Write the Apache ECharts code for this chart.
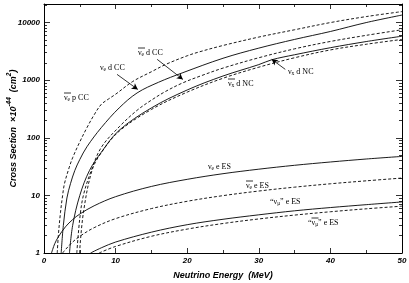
<!DOCTYPE html>
<html><head><meta charset="utf-8">
<script src="https://cdn.jsdelivr.net/npm/echarts@6/dist/echarts.min.js"></script>
<style>html,body{margin:0;padding:0;background:#fff}#c{width:409px;height:283px}</style>
</head><body><div id="c"></div>
<script>
// ---- data (cross sections in 1e-44 cm^2 vs neutrino energy in MeV) ----
const E_nuebarP = [1.85, 2, 2.3, 2.6, 2.86, 3.5, 4, 5, 6, 7, 8, 9, 10, 12.4, 15, 17.1, 20, 21.7, 25, 30, 35, 40, 45, 50];
const S_nuebarP = [1, 2, 5, 10, 16, 30, 45, 85, 150, 250, 380, 470, 570, 950, 1400, 1900, 2650, 3100, 4000, 5600, 7500, 10000, 12700, 15500];

const E_nueD_CC = [2.4, 2.7, 3.2, 3.7, 4.3, 5, 6, 8, 10.5, 13, 16, 19.4, 25, 30, 35, 40, 45, 50];
const S_nueD_CC = [1, 3, 9, 16, 27, 42, 70, 150, 330, 600, 920, 1350, 2400, 3600, 5100, 7000, 10000, 13500];

const E_nuebarD_CC = [4.58, 5, 5.5, 6.6, 8, 10.5, 13, 15, 17, 19.4, 22, 25, 30, 35, 40, 45, 50];
const S_nuebarD_CC = [1, 4, 10, 27, 68, 155, 300, 450, 640, 900, 1200, 1620, 2450, 3500, 4700, 6000, 7500];

const E_nuxD_NC = [3.56, 4, 5, 6.35, 8, 10.5, 15, 20, 25, 30, 31.8, 35, 40, 45, 50];
const S_nuxD_NC = [1, 3, 10, 27, 56, 135, 330, 676, 1181, 1863, 2260, 2762, 3660, 4680, 5800];

const E_nuxbarD_NC = [4.96, 5.5, 6.7, 8, 10.5, 15, 20, 25, 30, 35, 40, 45, 50];
const S_nuxbarD_NC = [1, 5, 27, 55, 130, 310, 620, 1080, 1680, 2450, 3350, 4200, 5100];

const E_nueES = [1.05, 1.5, 2, 3, 4, 5, 7, 10, 15, 20, 25, 30, 35, 40, 45, 50];
const S_nueES = [1, 1.45, 1.9, 2.85, 3.8, 4.75, 6.6, 9.5, 14.3, 19, 23.8, 28.5, 33.3, 38, 42.8, 47.5];

const E_nuebarES = [2.6, 3, 4, 5, 7, 10, 15, 20, 25, 30, 35, 40, 45, 50];
const S_nuebarES = [1, 1.15, 1.55, 1.95, 2.75, 3.95, 5.9, 7.9, 9.9, 11.9, 13.9, 15.9, 17.9, 20];

const E_numuES = [6.5, 8, 10, 15, 20, 25, 30, 35, 40, 45, 50];
const S_numuES = [1, 1.23, 1.55, 2.3, 3.1, 3.85, 4.6, 5.4, 6.15, 6.9, 7.7];

const E_numubarES = [7.7, 10, 15, 20, 25, 30, 35, 40, 45, 50];
const S_numubarES = [1, 1.3, 1.95, 2.6, 3.25, 3.9, 4.55, 5.2, 5.85, 6.5];

const xTickLabels = [0, 10, 20, 30, 40, 50];
const yTickLabels = [1, 10, 100, 1000, 10000];

// arrows: [E_from, S_from, E_to, S_to]
const arrowNueD = [10.2, 1260, 13.1, 690];
const arrowNuebarD = [15.8, 2300, 19.4, 1030];
const arrowNuxD = [33.7, 1540, 31.8, 2300];

function pairs(e, s) { return e.map((v, i) => [v, s[i]]); }

const SANS = 'Liberation Sans, Arial, sans-serif';
const SERIF = 'Liberation Serif, Times New Roman, serif';

function lineSeries(name, e, s, dashed, arrow) {
  const ser = {
    name, type: 'line', data: pairs(e, s), showSymbol: false, smooth: 0.35,
    clip: true, silent: true,
    lineStyle: { color: '#000', width: 0.9, type: dashed ? [3, 2] : 'solid' },
    z: 3
  };
  if (arrow) {
    ser.markLine = {
      silent: true, symbol: ['none', 'arrow'], symbolSize: [5, 6],
      label: { show: false },
      lineStyle: { color: '#000', width: 0.8, type: 'solid' },
      data: [[{ coord: [arrow[0], arrow[1]] }, { coord: [arrow[2], arrow[3]] }]]
    };
  }
  return ser;
}

const richBase = {
  a: { fontFamily: SERIF, fontSize: 8, lineHeight: 10, verticalAlign: 'middle', fill: '#000' },
  b: { fontFamily: SERIF, fontSize: 5.5, lineHeight: 4, verticalAlign: 'bottom', fill: '#000' }
};
function label(x, y, text, barOffset) {
  const els = [{
    type: 'text', x, y, silent: true,
    style: { text, rich: richBase, verticalAlign: 'middle', align: 'left', fill: '#000' }
  }];
  if (barOffset !== undefined) {
    els.push({ type: 'line', silent: true,
      shape: { x1: x + barOffset, y1: y - 5, x2: x + barOffset + 7, y2: y - 5 },
      style: { stroke: '#000', lineWidth: 0.8 } });
  }
  return els;
}

const graphics = [].concat(
  label(100, 68, '{a|ν}{b|e}{a| d CC}'),
  label(138, 53, '{a|ν}{b|e}{a| d CC}', 0),
  label(64, 98, '{a|ν}{b|e}{a| p CC}', 0),
  label(288, 72, '{a|ν}{b|x}{a| d NC}'),
  label(228, 84, '{a|ν}{b|x}{a| d NC}', 0),
  label(208, 167, '{a|ν}{b|e}{a| e ES}'),
  label(246, 186, '{a|ν}{b|e}{a| e ES}', 0),
  label(270, 202, '{a|“ν}{b|μ}{a|” e ES}'),
  label(308, 223, '{a|“ν}{b|μ}{a|” e ES}', 3.5)
);

const axisFont = { color: '#000', fontFamily: SANS, fontWeight: 'bold', fontStyle: 'italic', fontSize: 8 };

const option = {
  animation: false,
  backgroundColor: '#fff',
  grid: { left: 44, right: 7, top: 4, bottom: 30, containLabel: false, outerBoundsMode: 'none' },
  xAxis: [
    { type: 'value', min: 0, max: 50, interval: 10, position: 'bottom',
      axisLine: { show: true, onZero: false, lineStyle: { color: '#000', width: 1 } },
      axisTick: { show: true, inside: true, length: 5, lineStyle: { color: '#000', width: 0.8 } },
      minorTick: { show: true, splitNumber: 2, length: 3, lineStyle: { color: '#000', width: 0.8 } },
      splitLine: { show: false },
      axisLabel: Object.assign({ margin: 4, formatter: v => xTickLabels.includes(v) ? String(v) : '' }, axisFont),
      name: 'Neutrino Energy  (MeV)', nameLocation: 'middle', nameGap: 18, nameMoveOverlap: false,
      nameTextStyle: { color: '#000', fontFamily: SANS, fontWeight: 'bold', fontStyle: 'italic', fontSize: 9 }
    },
    { type: 'value', min: 0, max: 50, interval: 10, position: 'top',
      axisLine: { show: true, onZero: false, lineStyle: { color: '#000', width: 1 } },
      axisTick: { show: true, inside: true, length: 5, lineStyle: { color: '#000', width: 0.8 } },
      minorTick: { show: true, splitNumber: 2, length: 3, lineStyle: { color: '#000', width: 0.8 } },
      splitLine: { show: false }, axisLabel: { show: false }
    }
  ],
  yAxis: [
    { type: 'log', logBase: 10, min: 1, max: 21000, position: 'left',
      axisLine: { show: true, onZero: false, lineStyle: { color: '#000', width: 1 } },
      axisTick: { show: true, inside: true, length: 6, lineStyle: { color: '#000', width: 0.8 } },
      minorTick: { show: true, splitNumber: 9, length: 3, lineStyle: { color: '#000', width: 0.8 } },
      splitLine: { show: false },
      axisLabel: Object.assign({ margin: 4, formatter: v => {
        const r = Math.round(v); return yTickLabels.includes(r) && Math.abs(r - v) < 1e-6 ? String(r) : ''; } }, axisFont),
      name: '{t|Cross Section  ×10}{s|-44}{t|  (cm}{s|2}{t|)}', nameLocation: 'middle', nameGap: 26, nameRotate: 90,
      nameMoveOverlap: false,
      nameTextStyle: { rich: {
        t: { color: '#000', fontFamily: SANS, fontWeight: 'bold', fontStyle: 'italic', fontSize: 9, lineHeight: 12, verticalAlign: 'bottom' },
        s: { color: '#000', fontFamily: SANS, fontWeight: 'bold', fontStyle: 'italic', fontSize: 6.5, lineHeight: 8, verticalAlign: 'top' }
      } }
    },
    { type: 'log', logBase: 10, min: 1, max: 21000, position: 'right',
      axisLine: { show: true, onZero: false, lineStyle: { color: '#000', width: 1 } },
      axisTick: { show: true, inside: true, length: 6, lineStyle: { color: '#000', width: 0.8 } },
      minorTick: { show: true, splitNumber: 9, length: 3, lineStyle: { color: '#000', width: 0.8 } },
      splitLine: { show: false }, axisLabel: { show: false }
    }
  ],
  series: [
    lineSeries('nuebar p CC', E_nuebarP, S_nuebarP, true),
    lineSeries('nue d CC', E_nueD_CC, S_nueD_CC, false, arrowNueD),
    lineSeries('nuebar d CC', E_nuebarD_CC, S_nuebarD_CC, true, arrowNuebarD),
    lineSeries('nux d NC', E_nuxD_NC, S_nuxD_NC, false, arrowNuxD),
    lineSeries('nuxbar d NC', E_nuxbarD_NC, S_nuxbarD_NC, true),
    lineSeries('nue e ES', E_nueES, S_nueES, false),
    lineSeries('nuebar e ES', E_nuebarES, S_nuebarES, true),
    lineSeries('numu e ES', E_numuES, S_numuES, false),
    lineSeries('numubar e ES', E_numubarES, S_numubarES, true)
  ],
  graphic: graphics
};

const chart = echarts.init(document.getElementById('c'), null, { renderer: 'canvas' });
chart.setOption(option);
</script>
</body></html>
